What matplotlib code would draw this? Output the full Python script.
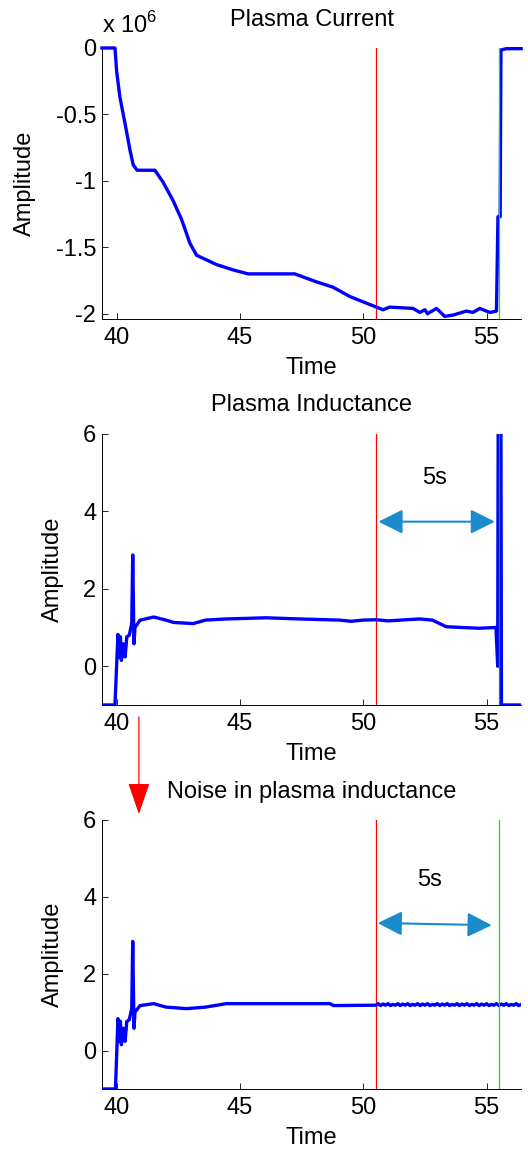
import numpy as np
import matplotlib
matplotlib.use("Agg")
import matplotlib.pyplot as plt
from matplotlib.ticker import FormatStrFormatter
from matplotlib.patches import ConnectionPatch, FancyArrowPatch

plt.rcParams['font.family'] = ['Liberation Sans', 'DejaVu Sans']
plt.rcParams['axes.unicode_minus'] = False

# Plasma current (in units of 1e6 A)
ip_t = [39.4, 39.93, 40.0, 40.13, 40.34, 40.54, 40.67, 40.83, 41.55, 41.88,
        42.29, 42.63, 42.97, 43.24, 44.05, 44.72, 45.33, 47.22, 48.1, 48.77,
        49.45, 50.12, 50.53, 50.8, 51.07, 52.02, 52.29, 52.5, 52.6, 52.97,
        53.3, 53.64, 54.18, 54.45, 54.72, 55.13, 55.4, 55.46, 55.55, 55.58,
        55.8, 56.4]
ip_v = [0.0, 0.0, -0.18, -0.37, -0.57, -0.77, -0.88, -0.92, -0.92, -1.01,
        -1.15, -1.29, -1.47, -1.56, -1.63, -1.67, -1.70, -1.70, -1.76, -1.80,
        -1.87, -1.92, -1.95, -1.97, -1.95, -1.96, -1.99, -1.97, -2.0, -1.96,
        -2.02, -2.01, -1.98, -1.99, -1.96, -1.99, -1.98, -1.27, -1.27, -0.015,
        -0.005, -0.005]

# Plasma inductance
li_t = [39.4, 39.93, 40.05, 40.1, 40.15, 40.19, 40.27, 40.34, 40.41, 40.51,
        40.61, 40.65, 40.7, 40.74, 40.95, 41.5, 42.0, 42.3, 43.1, 43.6,
        44.45, 46.07, 47.4, 49.04, 49.5, 50.0, 50.53, 51.0, 52.28, 52.8,
        53.36, 54.0, 54.7, 55.38, 55.45, 55.47, 55.58, 55.6, 56.4]
li_v = [-1.0, -1.0, 0.82, 0.24, 0.76, 0.15, 0.58, 0.24, 0.76, 0.8,
        1.1, 2.87, 0.58, 1.0, 1.19, 1.27, 1.19, 1.13, 1.1, 1.19,
        1.22, 1.25, 1.22, 1.19, 1.16, 1.19, 1.2, 1.17, 1.22, 1.19,
        1.02, 1.0, 0.98, 1.0, 0.0, 6.5, 6.5, -1.0, -1.0]

# Noisy plasma inductance
nz_t = [39.4, 39.95, 40.05, 40.1, 40.15, 40.19, 40.27, 40.34, 40.41, 40.51,
        40.61, 40.65, 40.7, 40.74, 40.95, 41.5, 42.0, 42.83, 43.6, 44.45,
        48.64, 48.8, 50.53, 50.6, 50.7, 50.8, 50.9, 51.0, 51.1, 51.2,
        51.3, 51.4, 51.5, 51.6, 51.7, 51.8, 51.9, 52.0, 52.1, 52.2,
        52.3, 52.4, 52.5, 52.6, 52.7, 52.8, 52.9, 53.0, 53.1, 53.2,
        53.3, 53.4, 53.5, 53.6, 53.7, 53.8, 53.9, 54.0, 54.1, 54.2,
        54.3, 54.4, 54.5, 54.6, 54.7, 54.8, 54.9, 55.0, 55.1, 55.2,
        55.3, 55.4, 55.5, 55.6, 55.7, 55.8, 55.9, 56.0, 56.1, 56.2,
        56.3, 56.4]
nz_v = [-1.0, -1.0, 0.83, 0.24, 0.76, 0.15, 0.58, 0.24, 0.76, 0.8,
        1.1, 2.84, 0.58, 1.0, 1.17, 1.22, 1.13, 1.09, 1.13, 1.22,
        1.22, 1.17, 1.18, 1.22, 1.17, 1.21, 1.18, 1.22, 1.17, 1.2,
        1.18, 1.22, 1.17, 1.21, 1.18, 1.22, 1.17, 1.2, 1.18, 1.22,
        1.17, 1.21, 1.18, 1.22, 1.17, 1.2, 1.18, 1.22, 1.17, 1.21,
        1.18, 1.22, 1.17, 1.2, 1.18, 1.22, 1.17, 1.21, 1.18, 1.22,
        1.17, 1.2, 1.18, 1.22, 1.17, 1.21, 1.18, 1.22, 1.17, 1.2,
        1.18, 1.22, 1.17, 1.21, 1.18, 1.22, 1.17, 1.2, 1.18, 1.22,
        1.17, 1.2]

t_red = 50.5
t_green = 55.5
xticks = [40, 45, 50, 55]
xlim = (39.4, 56.4)

fig = plt.figure(figsize=(5.28, 11.51), dpi=100)
ax1 = fig.add_axes([0.193, 0.7228, 0.794, 0.2355])
ax2 = fig.add_axes([0.193, 0.3875, 0.794, 0.2357])
ax3 = fig.add_axes([0.193, 0.0539, 0.794, 0.2337])


def style(ax, title):
    for s in ['top', 'right']:
        ax.spines[s].set_visible(False)
    for s in ['left', 'bottom']:
        ax.spines[s].set_linewidth(0.7)
    ax.set_xlim(*xlim)
    ax.set_xticks(xticks)
    ax.tick_params(direction='in', length=4, width=0.6, labelsize=17)
    ax.tick_params(axis='x', pad=6)
    ax.tick_params(axis='y', pad=4)
    ax.yaxis.set_major_formatter(FormatStrFormatter('%g'))
    ax.set_xlabel('Time', fontsize=17, labelpad=5.5)
    ax.set_ylabel('Amplitude', fontsize=17, labelpad=14)
    ax.set_title(title, fontsize=17, pad=16)


# top: plasma current
ax1.plot(ip_t, ip_v, color='blue', lw=2.4, zorder=3, clip_on=False)
ax1.axvline(t_red, color='red', lw=0.9, zorder=2)
ax1.axvline(t_green, color='#00ee00', lw=0.9, zorder=4)
ax1.set_ylim(-2.04, 0)
ax1.set_yticks([0, -0.5, -1, -1.5, -2])
style(ax1, 'Plasma Current')
ax1.text(0.0, 1.055, r'x 10$^{\mathregular{6}}$', transform=ax1.transAxes,
         fontsize=17, va='baseline', ha='left')

# middle: plasma inductance
ax2.plot(li_t, li_v, color='blue', lw=2.4, zorder=3)
ax2.axvline(t_red, color='red', lw=0.9, zorder=2)
ax2.axvline(t_green, color='#00aa00', lw=0.9, zorder=4)
ax2.set_ylim(-1, 6)
ax2.set_yticks([0, 2, 4, 6])
style(ax2, 'Plasma Inductance')

# bottom: noisy inductance
ax3.plot(nz_t, nz_v, color='blue', lw=2.4, zorder=3)
ax3.axvline(t_red, color='red', lw=0.9, zorder=2)
ax3.axvline(t_green, color='#00ee00', lw=0.9, zorder=4)
ax3.set_ylim(-1, 6)
ax3.set_yticks([0, 2, 4, 6])
style(ax3, 'Noise in plasma inductance')

# 5 s window arrows
arrow_kw = dict(arrowstyle='<|-|>,head_length=1.0,head_width=0.5',
                mutation_scale=15, color='#1a8ccc', lw=1.5, zorder=5)
ax2.add_patch(FancyArrowPatch((50.5, 3.73), (55.45, 3.73), **arrow_kw))
ax2.text(52.9, 4.85, '5s', fontsize=17, ha='center', va='center')
ax3.add_patch(FancyArrowPatch((50.47, 3.32), (55.32, 3.26), **arrow_kw))
ax3.text(52.69, 4.43, '5s', fontsize=17, ha='center', va='center')

# red arrow pointing at the noise
con = ConnectionPatch(xyA=(40.9, -0.044), coordsA=ax2.get_xaxis_transform(),
                      xyB=(40.9, 1.022), coordsB=ax3.get_xaxis_transform(),
                      arrowstyle='-|>,head_length=1.1,head_width=0.38',
                      mutation_scale=18, color='red', lw=0.9)
fig.add_artist(con)

fig.savefig('out.png', dpi=100)
